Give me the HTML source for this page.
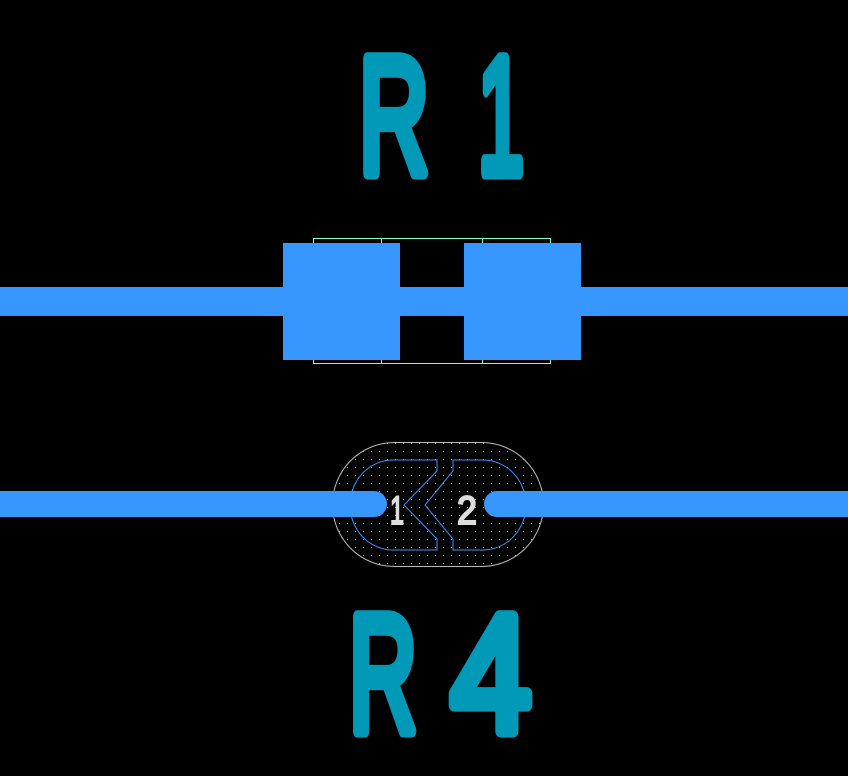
<!DOCTYPE html>
<html><head><style>
html,body{margin:0;padding:0;background:#000;width:848px;height:776px;overflow:hidden}
</style></head><body>
<svg width="848" height="776" viewBox="0 0 848 776" xmlns="http://www.w3.org/2000/svg">
<defs>
<pattern id="dots" width="8" height="8" patternUnits="userSpaceOnUse">
<rect x="3" y="3" width="1" height="1" fill="#9aa"/>
</pattern>
</defs>
<rect width="848" height="776" fill="#000"/>
<rect x="0" y="287" width="848" height="29" fill="#3797ff"/>
<rect x="283" y="243" width="117" height="117" fill="#3797ff"/>
<rect x="464" y="243" width="117" height="117" fill="#3797ff"/>
<g fill="none" stroke="#7fffd4" stroke-width="1">
<path d="M313.5 243 V238.5 H550.5 V243"/>
<path d="M313.5 360 V363.5 H550.5 V360"/>
<path d="M381.5 238.5 V243 M482.5 238.5 V243 M381.5 360 V363.5 M482.5 360 V363.5"/>
</g>
<g font-family="Liberation Sans, sans-serif" font-size="166" fill="#009ab8" stroke="#009ab8" stroke-width="13" stroke-linejoin="round" stroke-linecap="round">
<text x="359" y="173" textLength="70" lengthAdjust="spacingAndGlyphs">R</text>
<text x="478" y="173" textLength="46" lengthAdjust="spacingAndGlyphs">1</text>
<text x="349" y="731" textLength="68" lengthAdjust="spacingAndGlyphs">R</text>
<text x="451" y="731" textLength="80" lengthAdjust="spacingAndGlyphs">4</text>
</g>
<rect x="332.5" y="442.5" width="211" height="124" rx="62" fill="url(#dots)" stroke="#bbb" stroke-width="1"/>
<g fill="none" stroke="#3797ff" stroke-width="1">
<path d="M437 460 V471 L404 505 L437 539 V550 H393 A43 45 0 0 1 393 460 Z"/>
<path d="M453 460 V471 L425 505 L453 539 V550 H483 A43 45 0 0 0 483 460 Z"/>
</g>
<rect x="0" y="491" width="387" height="26" rx="13" fill="#3797ff"/>
<rect x="-20" y="491" width="200" height="26" fill="#3797ff"/>
<rect x="484" y="491" width="380" height="26" rx="13" fill="#3797ff"/>
<rect x="700" y="491" width="148" height="26" fill="#3797ff"/>
<g font-family="Liberation Sans, sans-serif" font-size="40" fill="#ddd" stroke="#ddd" stroke-width="2">
<text x="390" y="524" textLength="14" lengthAdjust="spacingAndGlyphs">1</text>
<text x="457" y="524" textLength="20" lengthAdjust="spacingAndGlyphs">2</text>
</g>
</svg>
</body></html>
